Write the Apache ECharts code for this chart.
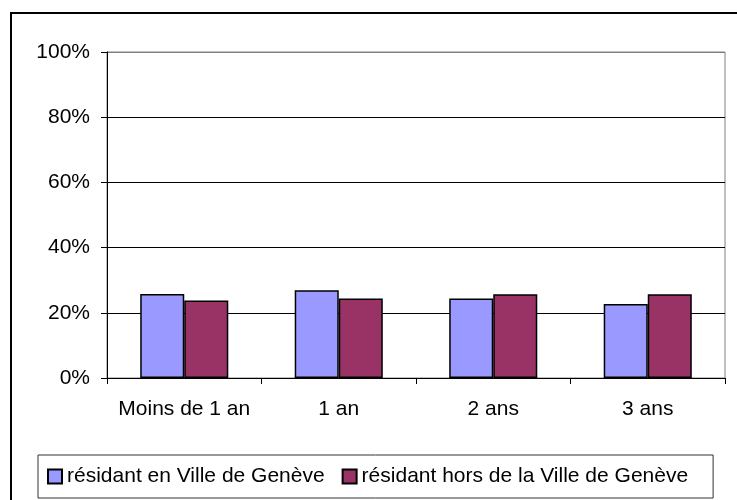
<!DOCTYPE html>
<html>
<head>
<meta charset="utf-8">
<script src="https://cdn.jsdelivr.net/npm/echarts@6/dist/echarts.min.js"></script>
<style>
  html, body { margin: 0; padding: 0; background: #fff; }
  #chart { width: 737px; height: 500px; }
</style>
</head>
<body>
<div id="chart"></div>
<script>
const categories = ['Moins de 1 an', '1 an', '2 ans', '3 ans']
const seriesNames = ['résidant en Ville de Genève', 'résidant hors de la Ville de Genève']
const villeValues = [25.8, 26.9, 24.4, 22.7]
const horsValues = [23.8, 24.4, 25.7, 25.7]
const yTicks = [0, 20, 40, 60, 80, 100]

const font = '"Liberation Sans", Arial, sans-serif'

const myChart = echarts.init(document.getElementById('chart'))

// bar look, shared by both series
const barStyle = (color) => ({
  color: color,
  borderColor: '#000',
  borderWidth: 1.5
})

myChart.setOption({
  animation: false,
  backgroundColor: '#fff',
  textStyle: { fontFamily: font, color: '#000' },
  graphic: [
    {
      type: 'rect',
      shape: { x: 11, y: 13, width: 740, height: 500 },
      style: { fill: 'none', stroke: '#000', lineWidth: 2 },
      silent: true
    }
  ],
  grid: {
    left: 107,
    right: 12,
    top: 52,
    bottom: 122,
    show: true,
    borderColor: '#808080',
    borderWidth: 1,
    backgroundColor: 'transparent'
  },
  legend: {
    left: 38,
    top: 455,
    orient: 'horizontal',
    data: seriesNames,
    itemWidth: 14,
    itemHeight: 14,
    itemGap: 17,
    padding: [11, 25, 11, 9],
    borderColor: '#333',
    borderWidth: 1,
    icon: 'rect',
    textStyle: { fontFamily: font, fontSize: 21, color: '#000' }
  },
  xAxis: {
    type: 'category',
    data: categories,
    axisLine: { lineStyle: { color: '#000', width: 1 } },
    axisTick: { show: true, interval: 0, length: 6, lineStyle: { color: '#000' } },
    axisLabel: { interval: 0, fontFamily: font, fontSize: 21, color: '#000', margin: 21 }
  },
  yAxis: {
    type: 'value',
    min: yTicks[0],
    max: yTicks[yTicks.length - 1],
    interval: 20,
    axisLine: { show: true, lineStyle: { color: '#000', width: 1 } },
    axisTick: { show: true, length: 6, lineStyle: { color: '#000' } },
    axisLabel: {
      fontFamily: font,
      fontSize: 21,
      color: '#000',
      margin: 17,
      formatter: '{value}%'
    },
    splitLine: {
      show: true,
      lineStyle: { color: ['#000', '#000', '#000', '#000', '#000', '#808080'], width: 1 }
    }
  },
  series: [
    {
      name: seriesNames[0],
      type: 'bar',
      data: villeValues,
      barGap: '0%',
      barCategoryGap: '43%',
      itemStyle: barStyle('#9999FF')
    },
    {
      name: seriesNames[1],
      type: 'bar',
      data: horsValues,
      barGap: '0%',
      barCategoryGap: '43%',
      itemStyle: barStyle('#993366')
    }
  ]
})
</script>
</body>
</html>
